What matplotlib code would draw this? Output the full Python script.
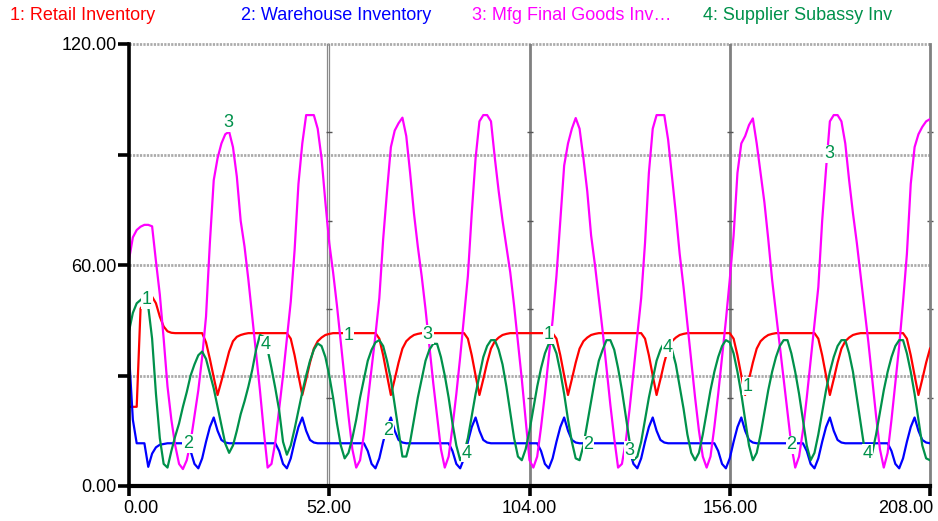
import numpy as np
import matplotlib
matplotlib.use("Agg")
import matplotlib.pyplot as plt
from matplotlib.transforms import ScaledTranslation

plt.rcParams["font.family"] = ["Liberation Sans", "DejaVu Sans"]

# weekly values (weeks 0..208)
RETAIL = [
    21.5, 21.5, 21.5, 48.2, 49.5, 50.5, 51.4, 49.6, 46, 43.3,
    42, 41.6, 41.5, 41.5, 41.5, 41.5, 41.5, 41.5, 41.5, 41.5,
    39, 34.5, 29.5, 24.7, 28.5, 32.5, 36.5, 39.3, 40.5, 41,
    41.3, 41.5, 41.5, 41.5, 41.5, 41.5, 41.5, 41.5, 41.5, 41.5,
    41.5, 41.5, 40, 35.5, 30, 24.7, 29, 33.5, 37.3, 39.3,
    40.3, 41, 41.3, 41.5, 41.5, 41.5, 41.5, 41.5, 41.5, 41.5,
    41.5, 41.5, 41.5, 41.5, 41.5, 40, 35.5, 30, 24.7, 29,
    33.5, 37.3, 39.3, 40.3, 41, 41.3, 41.5, 41.5, 41.5, 41.5,
    41.5, 41.5, 41.5, 41.5, 41.5, 41.5, 41.5, 41.5, 40, 35.5,
    30, 24.7, 29, 33.5, 37.3, 39.3, 40.3, 41, 41.3, 41.5,
    41.5, 41.5, 41.5, 41.5, 41.5, 41.5, 41.5, 41.5, 41.5, 41.5,
    41.5, 40, 35.5, 30, 24.7, 29, 33.5, 37.3, 39.3, 40.3,
    41, 41.3, 41.5, 41.5, 41.5, 41.5, 41.5, 41.5, 41.5, 41.5,
    41.5, 41.5, 41.5, 41.5, 40, 35.5, 30, 24.7, 29, 33.5,
    37.3, 39.3, 40.3, 41, 41.3, 41.5, 41.5, 41.5, 41.5, 41.5,
    41.5, 41.5, 41.5, 41.5, 41.5, 41.5, 41.5, 40, 35.5, 30,
    24.7, 29, 33.5, 37.3, 39.3, 40.3, 41, 41.3, 41.5, 41.5,
    41.5, 41.5, 41.5, 41.5, 41.5, 41.5, 41.5, 41.5, 41.5, 40,
    35.5, 30, 24.7, 29, 33.5, 37.3, 39.3, 40.3, 41, 41.3,
    41.5, 41.5, 41.5, 41.5, 41.5, 41.5, 41.5, 41.5, 41.5, 41.5,
    41.5, 41.5, 40, 35.5, 30, 24.7, 29, 33.5, 37.3,
]

WAREHOUSE = [
    36, 18, 11.6, 11.6, 11.6, 5.2, 8.8, 10.5, 11.2, 11.4,
    11.6, 11.6, 11.6, 11.6, 11.6, 11.6, 9.5, 6, 4.8, 7.5,
    12, 16, 18.6, 15, 12.5, 11.8, 11.6, 11.6, 11.6, 11.6,
    11.6, 11.6, 11.6, 11.6, 11.6, 11.6, 11.6, 11.6, 11.6, 9.5,
    6, 4.8, 7.5, 12, 16, 18.6, 15, 12.5, 11.8, 11.6,
    11.6, 11.6, 11.6, 11.6, 11.6, 11.6, 11.6, 11.6, 11.6, 11.6,
    11.6, 11.6, 9.5, 6, 4.8, 7.5, 12, 16, 18.6, 15,
    12.5, 11.8, 11.6, 11.6, 11.6, 11.6, 11.6, 11.6, 11.6, 11.6,
    11.6, 11.6, 11.6, 11.6, 9.5, 6, 4.8, 7.5, 12, 16,
    18.6, 15, 12.5, 11.8, 11.6, 11.6, 11.6, 11.6, 11.6, 11.6,
    11.6, 11.6, 11.6, 11.6, 11.6, 11.6, 11.6, 9.5, 6, 4.8,
    7.5, 12, 16, 18.6, 15, 12.5, 11.8, 11.6, 11.6, 11.6,
    11.6, 11.6, 11.6, 11.6, 11.6, 11.6, 11.6, 11.6, 11.6, 11.6,
    9.5, 6, 4.8, 7.5, 12, 16, 18.6, 15, 12.5, 11.8,
    11.6, 11.6, 11.6, 11.6, 11.6, 11.6, 11.6, 11.6, 11.6, 11.6,
    11.6, 11.6, 11.6, 9.5, 6, 4.8, 7.5, 12, 16, 18.6,
    15, 12.5, 11.8, 11.6, 11.6, 11.6, 11.6, 11.6, 11.6, 11.6,
    11.6, 11.6, 11.6, 11.6, 11.6, 11.6, 9.5, 6, 4.8, 7.5,
    12, 16, 18.6, 15, 12.5, 11.8, 11.6, 11.6, 11.6, 11.6,
    11.6, 11.6, 11.6, 11.6, 11.6, 11.6, 11.6, 11.6, 9.5, 6,
    4.8, 7.5, 12, 16, 18.6, 15, 12.5, 11.8, 11.6,
]

MFG_FINAL = [
    61.4, 67.5, 69.5, 70.4, 70.9, 70.9, 70.5, 61, 52, 40,
    27, 18, 11, 6, 4.6, 7, 12, 19, 26, 35,
    46, 66, 83, 89, 93, 95.5, 96.2, 92, 84, 72,
    65, 56, 46, 36, 26, 15, 5, 6, 12, 21,
    30, 40, 50, 64, 82, 93, 100.7, 100.7, 100.7, 97,
    89, 77, 66, 58, 49, 39, 29, 19, 10, 5,
    7, 14, 23, 32, 41, 51, 67, 80, 92, 96.5,
    98.5, 100, 95, 85, 74, 65, 57, 48, 38, 28,
    19, 10, 5, 8, 16, 25, 35, 46, 57, 74,
    89, 99, 100.7, 100.7, 99, 89, 80, 72, 65, 58,
    49, 39, 29, 18, 7, 5, 8, 16, 25, 35,
    45, 57, 72, 87, 93, 97, 99.9, 97, 89, 80,
    68, 60, 51, 42, 32, 22, 13, 5, 6, 12,
    21, 31, 41, 51, 66, 85, 97, 100.7, 100.7, 100.7,
    94, 84, 74, 63, 54, 44, 34, 24, 15, 8,
    5, 8, 16, 25, 35, 45, 56, 68, 85, 93,
    95, 98, 99.8, 93, 85, 77, 67, 56, 47, 38,
    29, 20, 11, 5, 8, 15, 24, 34, 44, 54,
    72, 86, 99, 100.7, 100.7, 99, 93, 83, 74, 66,
    57, 48, 39, 29, 19, 10, 5, 9, 18, 28,
    38, 50, 63, 82, 92, 95.5, 97.5, 99, 99.6,
]

SUPPLIER = [
    42, 47, 49.6, 50.5, 51.4, 48.7, 40, 25, 13, 6,
    5, 9.5, 13.5, 17, 21.5, 25.5, 30, 33, 35.5, 36.5,
    34.5, 30.5, 26.5, 21.5, 16.5, 11.5, 9, 11, 15, 19.5,
    23, 27, 31.5, 37, 41, 40.5, 37, 32, 26.5, 20.5,
    12, 8.5, 11, 15.5, 20.5, 25.5, 30, 34, 37, 38.7,
    38, 35, 30, 24, 17, 11, 7.5, 9, 13, 18,
    24, 29, 34, 37, 39, 39.6, 38, 34, 29, 22,
    15, 8, 8, 12, 18, 24, 29, 34, 37, 38.6,
    38.6, 35, 30, 24, 17, 11, 7, 9, 13, 19,
    25, 30, 35, 38, 39.6, 39.6, 37, 33, 27, 20,
    13, 8, 7, 10, 15, 21, 27, 32, 36, 38.6,
    38.6, 36, 31, 25, 18, 12, 7.5, 7, 11, 17,
    23, 29, 34, 37, 39.6, 39.6, 37, 32, 26, 19,
    12, 7, 8, 12, 18, 24, 29, 34, 37, 39,
    39, 37, 33, 27, 21, 14, 9, 7, 9, 14,
    20, 26, 31, 35, 38, 39.6, 39, 36, 31, 25,
    18, 11, 7, 9, 14, 20, 26, 31, 35, 38,
    39.6, 39.6, 36, 31, 25, 18, 11, 7, 9, 14,
    20, 26, 31, 35, 38, 39.6, 39.6, 36, 31, 24,
    17, 10, 7, 9, 14, 20, 26, 31, 35, 38,
    39.6, 39.6, 36, 31, 25, 18, 11, 7.5, 7,
]

SERIES_NAMES = ["1: Retail Inventory", "2: Warehouse Inventory",
                "3: Mfg Final Goods Inv\u2026", "4: Supplier Subassy Inv"]
SERIES_COLORS = ["#ff0000", "#0000ff", "#ff00ff", "#00914b"]

X_TICKS = [0, 52, 104, 156, 208]
Y_TICKS = [0, 30, 60, 90, 120]
Y_LABELED = [0, 60, 120]

# curve number tags placed along the lines
LABEL_TEXT = ["3", "1", "2", "4", "1", "3", "2", "4",
              "1", "2", "3", "4", "1", "2", "3", "4"]
LABEL_T = [25.7, 4.7, 15.3, 35.6, 57.0, 77.6, 67.3, 87.6,
           109.0, 119.3, 129.9, 139.8, 160.7, 172.0, 181.9, 191.8]
LABEL_V = [98.6, 50.5, 11.5, 38.3, 40.8, 41.1, 15.2, 8.9,
           41.0, 11.2, 9.7, 37.5, 27.1, 11.2, 90.2, 8.8]
LABEL_COLOR = "#00914b"


def main():
    fig = plt.figure(figsize=(9.38, 5.21), dpi=100)
    ax = fig.add_axes([129 / 938, 35 / 521, 801 / 938, 442 / 521])
    ax.set_xlim(X_TICKS[0], X_TICKS[-1])
    ax.set_ylim(Y_TICKS[0], Y_TICKS[-1])

    # dotted horizontal grid
    for y in Y_TICKS[1:]:
        ax.axhline(y, color="#ababab", lw=2.0, ls=(0, (0.8, 0.45)),
                   zorder=1, clip_on=False)
    # solid vertical grid
    ax.axvline(X_TICKS[1] - 0.5, color="#8a8a8a", lw=0.9, zorder=1)
    ax.axvline(X_TICKS[1], color="#8a8a8a", lw=0.9, zorder=1)
    for x in X_TICKS[2:-1]:
        ax.axvline(x, color="#808080", lw=2.0, zorder=1)
    # small marks on vertical grid lines
    marks = [Y_TICKS[-1] * f for f in (0.2, 0.4, 0.6, 0.8)]
    for x in X_TICKS[1:]:
        ax.plot([x] * len(marks), marks, ls="none", marker="_", ms=5,
                mew=1.0, color="#555555", zorder=2, clip_on=False)

    series = [RETAIL, WAREHOUSE, MFG_FINAL, SUPPLIER]
    for vals, col in zip(series, SERIES_COLORS):
        t = np.arange(len(vals))
        ax.plot(t, vals, color=col, lw=1.6, zorder=3)

    for txt, tx, ty in zip(LABEL_TEXT, LABEL_T, LABEL_V):
        ax.text(tx, ty, txt, color=LABEL_COLOR, fontsize=13, ha="center",
                va="center", zorder=5,
                bbox=dict(facecolor="white", edgecolor="none", pad=0.5))

    ax.spines["top"].set_visible(False)
    ax.spines["right"].set_color("#808080")
    ax.spines["right"].set_linewidth(2.0)
    ax.spines["left"].set_linewidth(2.6)
    ax.spines["bottom"].set_linewidth(3.0)
    ax.spines["left"].set_zorder(4)
    ax.spines["bottom"].set_zorder(4)

    ax.set_yticks(Y_TICKS)
    ax.set_yticklabels([f"{v:.2f}" if v in Y_LABELED else "" for v in Y_TICKS])
    ax.set_xticks(X_TICKS)
    ax.set_xticklabels([f"{v:.2f}" for v in X_TICKS])
    ax.tick_params(axis="y", direction="out", length=8, width=2.6,
                   labelsize=13, pad=1)
    ax.tick_params(axis="x", direction="out", length=7, width=2.6,
                   labelsize=13, pad=3)

    xl = ax.get_xticklabels()
    xl[0].set_horizontalalignment("left")
    xl[0].set_transform(xl[0].get_transform() +
                        ScaledTranslation(-6 / 100, 0, fig.dpi_scale_trans))
    xl[-1].set_horizontalalignment("right")
    xl[-1].set_transform(xl[-1].get_transform() +
                         ScaledTranslation(3 / 100, 0, fig.dpi_scale_trans))

    # header legend
    for i, (name, col) in enumerate(zip(SERIES_NAMES, SERIES_COLORS)):
        fig.text((10 + 231 * i) / 938, 1 - 20.5 / 521, name, color=col,
                 fontsize=13, ha="left", va="baseline")

    fig.savefig("out.png", dpi=100)
    plt.close(fig)


if __name__ == "__main__":
    main()
